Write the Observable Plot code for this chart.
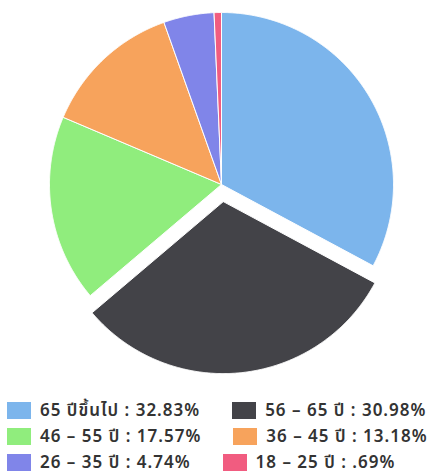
<!DOCTYPE html>
<html><head><meta charset="utf-8">
<script src="https://cdn.jsdelivr.net/npm/d3@7"></script>
<script src="https://cdn.jsdelivr.net/npm/@observablehq/plot@0.6"></script>
<style>
body{margin:0;background:#fff;font-family:"Noto Sans","Noto Sans Thai",Tahoma,sans-serif;overflow:hidden;}
#chart svg{display:block;}
#legend{margin-top:1px;padding-left:7px;}
.row{display:flex;align-items:center;height:26px;white-space:nowrap;}
.item{display:flex;align-items:center;margin-right:32px;}
.sw{width:24px;height:17px;margin-right:9px;}
.lab{font-size:17px;letter-spacing:1px;color:#333;font-weight:600;line-height:20px;}
</style></head>
<body><div id="chart"></div><div id="legend"></div>
<script>
const categories = ["65 ปีขึ้นไป", "56 – 65 ปี", "46 – 55 ปี", "36 – 45 ปี", "26 – 35 ปี", "18 – 25 ปี"];
const values = [32.83, 30.98, 17.57, 13.18, 4.74, 0.69];
const labels = ["32.83%", "30.98%", "17.57%", "13.18%", "4.74%", ".69%"];
const colors = ["#7cb5ec", "#434348", "#90ed7d", "#f7a35c", "#8085e9", "#f15c80"];
const exploded = ["56 – 65 ปี"];

const arcs = d3.pie().sort(null).value(d => d.v)(categories.map((c, i) => ({c, v: values[i]})));
const pts = [];
arcs.forEach(a => {
  const mid = (a.startAngle + a.endAngle) / 2;
  const off = exploded.includes(a.data.c) ? 0.1 : 0;
  const ox = off * Math.sin(mid), oy = off * Math.cos(mid);
  pts.push({c: a.data.c, x: ox, y: oy});
  const n = Math.max(4, Math.ceil((a.endAngle - a.startAngle) / 0.005));
  for (let k = 0; k <= n; k++) {
    const t = a.startAngle + (a.endAngle - a.startAngle) * k / n;
    pts.push({c: a.data.c, x: ox + Math.sin(t), y: oy + Math.cos(t)});
  }
  pts.push({c: a.data.c, x: ox, y: oy});
});

const chart = Plot.plot({
  width: 432, height: 396,
  margin: 0,
  x: {domain: [-1, 1], range: [49, 393], axis: null},
  y: {domain: [-1, 1], range: [356, 12], axis: null},
  color: {domain: categories, range: colors},
  marks: [
    Plot.line(pts, {x: "x", y: "y", z: "c", fill: "c", stroke: "white", strokeWidth: 1, curve: "linear"})
  ]
});
document.getElementById("chart").appendChild(chart);

const leg = document.getElementById("legend");
for (let r = 0; r < categories.length; r += 2) {
  const row = document.createElement("div"); row.className = "row";
  for (let i = r; i < Math.min(r + 2, categories.length); i++) {
    const it = document.createElement("div"); it.className = "item";
    const sw = document.createElement("div"); sw.className = "sw"; sw.style.background = colors[i];
    const lb = document.createElement("span"); lb.className = "lab"; lb.textContent = categories[i] + " : " + labels[i];
    it.appendChild(sw); it.appendChild(lb); row.appendChild(it);
  }
  leg.appendChild(row);
}
</script></body></html>
